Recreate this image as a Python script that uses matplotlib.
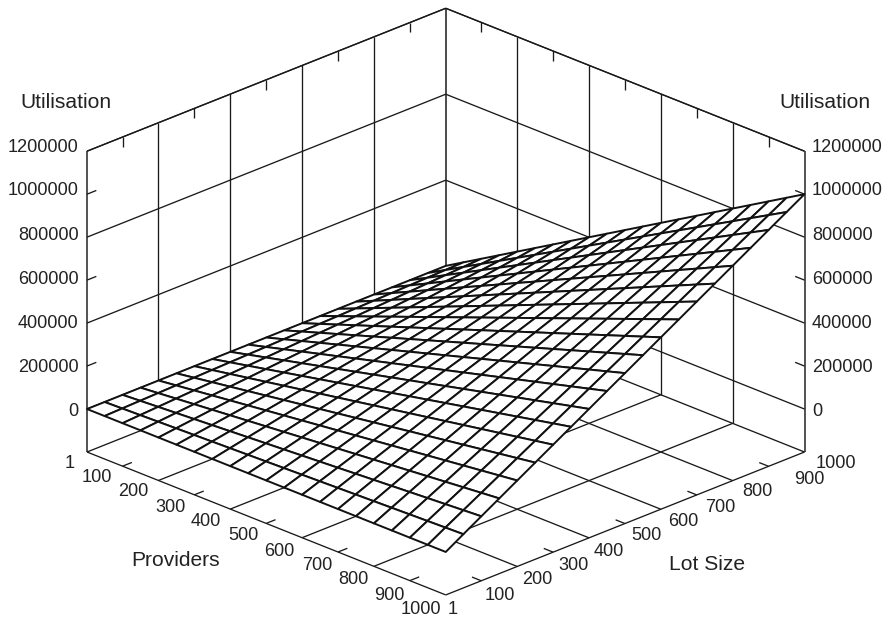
import numpy as np
import matplotlib
matplotlib.use("Agg")
import matplotlib.pyplot as plt
from mpl_toolkits.mplot3d import proj3d

plt.rcParams['font.family'] = ['Liberation Sans', 'DejaVu Sans']

providers = [1, 50, 100, 150, 200, 250, 300, 350, 400, 450, 500, 550, 600, 650, 700, 750, 800, 850, 900, 950, 1000]
lot_size = [1, 50, 100, 150, 200, 250, 300, 350, 400, 450, 500, 550, 600, 650, 700, 750, 800, 850, 900, 950, 1000]

# utilisation in thousands; rows = providers, columns = lot size
utilisation_k = [
    [0, 0.05, 0.1, 0.15, 0.2, 0.25, 0.3, 0.35, 0.4, 0.45, 0.5, 0.55, 0.6, 0.65, 0.7, 0.75, 0.8, 0.85, 0.9, 0.95, 1],
    [0, 2.5, 5, 7.5, 10, 12.5, 15, 17.5, 20, 22.5, 25, 27.5, 30, 32.5, 35, 37.5, 40, 42.5, 45, 47.5, 50],
    [0, 5, 10, 15, 20, 25, 30, 35, 40, 45, 50, 55, 60, 65, 70, 75, 80, 85, 90, 95, 100],
    [0, 7.5, 15, 22.5, 30, 37.5, 45, 52.5, 60, 67.5, 75, 82.5, 90, 97.5, 105, 112.5, 120, 127.5, 135, 142.5, 150],
    [0, 10, 20, 30, 40, 50, 60, 70, 80, 90, 100, 110, 120, 130, 140, 150, 160, 170, 180, 190, 200],
    [0, 12.5, 25, 37.5, 50, 62.5, 75, 87.5, 100, 112.5, 125, 137.5, 150, 162.5, 175, 187.5, 200, 212.5, 225, 237.5, 250],
    [0, 15, 30, 45, 60, 75, 90, 105, 120, 135, 150, 165, 180, 195, 210, 225, 240, 255, 270, 285, 300],
    [0, 17.5, 35, 52.5, 70, 87.5, 105, 122.5, 140, 157.5, 175, 192.5, 210, 227.5, 245, 262.5, 280, 297.5, 315, 332.5, 350],
    [0, 20, 40, 60, 80, 100, 120, 140, 160, 180, 200, 220, 240, 260, 280, 300, 320, 340, 360, 380, 400],
    [0, 22.5, 45, 67.5, 90, 112.5, 135, 157.5, 180, 202.5, 225, 247.5, 270, 292.5, 315, 337.5, 360, 382.5, 405, 427.5, 450],
    [0, 25, 50, 75, 100, 125, 150, 175, 200, 225, 250, 275, 300, 325, 350, 375, 400, 425, 450, 475, 500],
    [0, 27.5, 55, 82.5, 110, 137.5, 165, 192.5, 220, 247.5, 275, 302.5, 330, 357.5, 385, 412.5, 440, 467.5, 495, 522.5, 550],
    [0, 30, 60, 90, 120, 150, 180, 210, 240, 270, 300, 330, 360, 390, 420, 450, 480, 510, 540, 570, 600],
    [0, 32.5, 65, 97.5, 130, 162.5, 195, 227.5, 260, 292.5, 325, 357.5, 390, 422.5, 455, 487.5, 520, 552.5, 585, 617.5, 650],
    [0, 35, 70, 105, 140, 175, 210, 245, 280, 315, 350, 385, 420, 455, 490, 525, 560, 595, 630, 665, 700],
    [0, 37.5, 75, 112.5, 150, 187.5, 225, 262.5, 300, 337.5, 375, 412.5, 450, 487.5, 525, 562.5, 600, 637.5, 675, 712.5, 750],
    [0, 40, 80, 120, 160, 200, 240, 280, 320, 360, 400, 440, 480, 520, 560, 600, 640, 680, 720, 760, 800],
    [0, 42.5, 85, 127.5, 170, 212.5, 255, 297.5, 340, 382.5, 425, 467.5, 510, 552.5, 595, 637.5, 680, 722.5, 765, 807.5, 850],
    [0, 45, 90, 135, 180, 225, 270, 315, 360, 405, 450, 495, 540, 585, 630, 675, 720, 765, 810, 855, 900],
    [0, 47.5, 95, 142.5, 190, 237.5, 285, 332.5, 380, 427.5, 475, 522.5, 570, 617.5, 665, 712.5, 760, 807.5, 855, 902.5, 950],
    [0, 50, 100, 150, 200, 250, 300, 350, 400, 450, 500, 550, 600, 650, 700, 750, 800, 850, 900, 950, 1000],
]

x_grid = [200, 400, 600, 800]
x_minor = [100, 300, 500, 700, 900]
z_grid = [0, 400000, 800000, 1200000]
z_minor = [200000, 600000, 1000000]
z_labels = ['0', '200000', '400000', '600000', '800000', '1000000', '1200000']
x_labels = ['1', '100', '200', '300', '400', '500', '600', '700', '800', '900', '1000']

XMIN, XMAX = 1, 1000
ZBASE, ZTOP = -200000, 1200000
W, H = 890, 617
INK = '#1a1a1a'

fig = plt.figure(figsize=(W / 100, H / 100), dpi=100, facecolor='white')
ax = fig.add_axes([0, 0, 1, 1], projection='3d', computed_zorder=False)
ax.set_proj_type('ortho')
ax.view_init(elev=23.48, azim=-45)
ax.set_xlim(XMIN, XMAX, view_margin=0)
ax.set_ylim(XMIN, XMAX, view_margin=0)
ax.set_zlim(ZBASE, ZTOP, view_margin=0)
ax.set_box_aspect((1, 1, 0.6464))
ax.set_axis_off()
ax.patch.set_alpha(0)


def seg(xs, ys, zs, lw=0.95, color=INK):
    ax.plot(xs, ys, zs, color=color, lw=lw, zorder=1, solid_capstyle='butt', clip_on=False)


# walls and floor outline
seg([XMIN, XMIN], [XMIN, XMAX], [ZTOP, ZTOP])
seg([XMIN, XMAX], [XMAX, XMAX], [ZTOP, ZTOP])
seg([XMIN, XMIN], [XMIN, XMIN], [ZBASE, ZTOP], lw=1.3, color='#444444')
seg([XMAX, XMAX], [XMAX, XMAX], [ZBASE, ZTOP], lw=1.3, color='#444444')
seg([XMIN, XMIN], [XMAX, XMAX], [ZBASE, ZTOP], lw=1.1)
seg([XMIN, XMAX], [XMIN, XMIN], [ZBASE, ZBASE])
seg([XMAX, XMAX], [XMIN, XMAX], [ZBASE, ZBASE])
seg([XMIN, XMIN], [XMIN, XMAX], [ZBASE, ZBASE])
seg([XMIN, XMAX], [XMAX, XMAX], [ZBASE, ZBASE])

# grid on walls and floor
for v in x_grid:
    seg([XMIN, XMIN], [v, v], [ZBASE, ZTOP])
    seg([v, v], [XMAX, XMAX], [ZBASE, ZTOP])
    seg([v, v], [XMIN, XMAX], [ZBASE, ZBASE])
    seg([XMIN, XMAX], [v, v], [ZBASE, ZBASE])
for z in z_grid:
    seg([XMIN, XMIN], [XMIN, XMAX], [z, z])
    seg([XMIN, XMAX], [XMAX, XMAX], [z, z])

# short ticks
TICK_XY = 26
TICK_Z = 46000
for v in x_minor:
    seg([v, v], [XMIN, XMIN + TICK_XY], [ZBASE, ZBASE])
    seg([XMAX, XMAX - TICK_XY], [v, v], [ZBASE, ZBASE])
    seg([XMIN, XMIN], [v, v], [ZTOP, ZTOP - TICK_Z])
    seg([v, v], [XMAX, XMAX], [ZTOP, ZTOP - TICK_Z])
for z in z_minor:
    seg([XMIN, XMIN], [XMIN, XMIN + TICK_XY], [z, z])
    seg([XMAX - TICK_XY, XMAX], [XMAX, XMAX], [z, z])

# surface
LOT, PROV = np.meshgrid(lot_size, providers)
UTIL = np.array(utilisation_k) * 1000.0
ax.plot_surface(PROV, LOT, UTIL, rstride=1, cstride=1, color='white', shade=False,
                edgecolor='#111111', linewidth=1.4, antialiased=True, zorder=5)


def to_px(p, l, z):
    xv, yv, _ = proj3d.proj_transform(p, l, z, ax.get_proj())
    return ax.transData.transform((xv, yv))


# size and place the 3D box so that its corners land where the reference has them
side = 890.0
left_px, bottom_px = 0.0, (H - side) / 2
for _ in range(3):
    ax.set_position([left_px / W, bottom_px / H, side / W, side / H])
    fig.canvas.draw()
    a = to_px(XMIN, XMIN, ZBASE)
    b = to_px(XMAX, XMAX, ZBASE)
    side *= (804.5 - 87.0) / (b[0] - a[0])
    ax.set_position([left_px / W, bottom_px / H, side / W, side / H])
    fig.canvas.draw()
    a = to_px(XMIN, XMIN, ZBASE)
    left_px += 87.0 - a[0]
    bottom_px += (H - 452.0) - a[1]
ax.set_position([left_px / W, bottom_px / H, side / W, side / H])


def label(px, py, s, ha='center', size=13.1):
    fig.text(px / W, 1 - py / H, s, ha=ha, va='center', fontsize=size, color='#222222')


for i, s in enumerate(z_labels):
    y = 411 - 44 * i
    label(78.5, y, s, ha='right')
    label(812, y, s, ha='left')

prov_pos = [(70, 463), (97, 477), (133, 492), (170, 507), (206, 521), (243, 536),
            (279, 551), (317, 565), (353, 580), (389, 595), (421, 609)]
lot_pos = [(453, 609), (500, 595), (537, 579), (573, 565), (609, 551), (646, 536),
           (683, 521), (720, 507), (757, 492), (809, 479), (836, 463)]
for s, p in zip(x_labels, prov_pos):
    label(p[0], p[1], s)
for s, p in zip(x_labels, lot_pos):
    label(p[0], p[1], s)

label(65.5, 102, 'Utilisation', size=15.1)
label(825, 102, 'Utilisation', size=15.1)
label(176, 561, 'Providers', size=15.1)
label(707, 564, 'Lot Size', size=15.1)

fig.savefig('out.png', dpi=100, facecolor='white')
